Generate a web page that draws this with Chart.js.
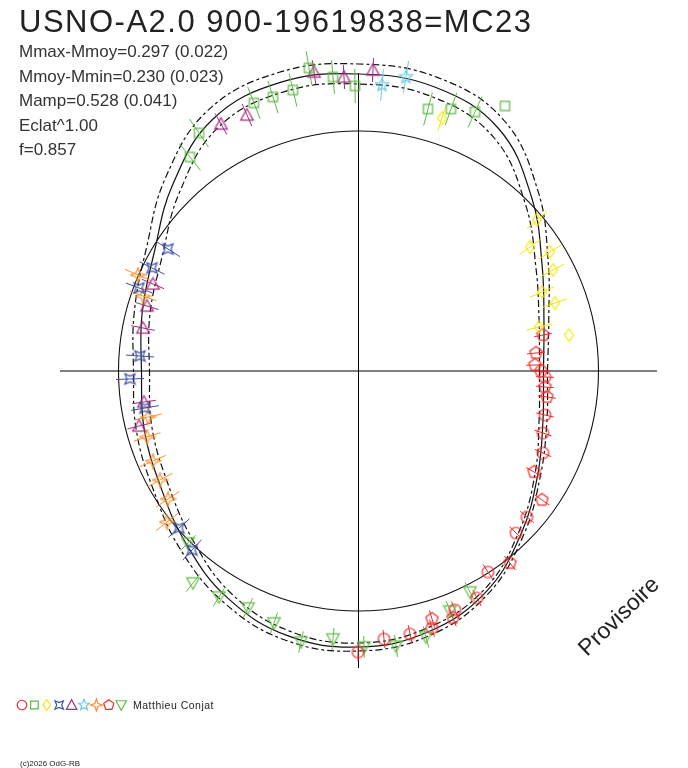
<!DOCTYPE html>
<html>
<head>
<meta charset="utf-8">
<script src="https://cdn.jsdelivr.net/npm/chart.js@4/dist/chart.umd.min.js"></script>
<style>
  html, body { margin: 0; padding: 0; background: #fff; }
</style>
</head>
<body>
<canvas id="myChart" width="688" height="768"></canvas>
<script>
// Courbe ajustee (phase en degres, rayon en unites du graphe)
const phaseDeg = [0, 15, 30, 45, 60, 75, 90, 105, 120, 135, 150, 165, 180, 195, 210, 225, 240, 255, 270, 285, 300, 315, 330, 345];
const fitR    = [1.85, 1.92, 2.12, 2.45, 2.80, 2.94, 2.97, 2.99, 2.91, 2.63, 2.36, 2.24, 2.17, 2.22, 2.29, 2.44, 2.62, 2.74, 2.76, 2.70, 2.55, 2.30, 2.07, 1.91];
const fitHigh = [1.89, 1.97, 2.19, 2.54, 2.90, 3.04, 3.07, 3.09, 3.01, 2.73, 2.45, 2.32, 2.25, 2.30, 2.37, 2.52, 2.68, 2.79, 2.80, 2.74, 2.58, 2.33, 2.10, 1.95];
const fitLow  = [1.81, 1.87, 2.05, 2.36, 2.70, 2.84, 2.87, 2.89, 2.81, 2.53, 2.27, 2.16, 2.09, 2.14, 2.21, 2.36, 2.56, 2.69, 2.72, 2.66, 2.52, 2.27, 2.04, 1.87];
const refRadius = 2.4;

// Observations par symbole : [x, y] ou [x, y, erreur]
const obsCircle = [[1.825, 0.00], [1.865, -0.06], [1.865, -0.44], [1.845, -0.62], [1.845, -0.82], [1.685, -1.46], [1.575, -1.62], [1.295, -2.01], [1.185, -2.27], [0.965, -2.39], [0.735, -2.57], [0.515, -2.63], [0.255, -2.68], [-0.005, -2.81]];
const obsSquare = [[-1.685, 2.14], [-1.595, 2.38], [-1.045, 2.68], [-0.855, 2.74], [-0.655, 2.81], [-0.495, 3.03], [-0.255, 2.94], [-0.035, 2.85], [0.695, 2.62], [0.925, 2.62], [1.165, 2.59], [1.465, 2.65, 0]];
const obsDiamond = [[0.835, 2.53], [1.785, 1.51], [1.715, 1.24], [1.915, 1.19], [1.945, 1.01], [1.835, 0.79], [1.965, 0.68], [1.805, 0.44], [2.105, 0.36, 0]];
const obsStarX = [[-1.905, 1.22], [-2.065, 1.03], [-2.195, 0.83], [-2.185, 0.15], [-2.285, -0.08], [-2.135, -0.37], [-1.795, -1.57], [-1.665, -1.79]];
const obsTriangle = [[-1.375, 2.47], [-1.115, 2.56], [-0.445, 2.99], [-0.145, 2.94], [0.145, 3.01], [-2.055, 0.87], [-2.115, 0.65], [-2.155, 0.43], [-2.145, -0.31], [-2.195, -0.55]];
const obsStar5 = [[0.235, 2.86], [0.475, 2.94]];
const obsStar4 = [[-2.205, 0.96], [-2.155, 0.75], [-2.105, -0.46], [-2.115, -0.66], [-2.055, -0.90], [-1.985, -1.09], [-1.905, -1.28], [-1.915, -1.51]];
const obsPentagon = [[1.845, 0.36], [1.775, 0.18], [1.765, 0.06], [1.865, -0.16], [1.885, -0.26], [1.755, -1.01], [1.835, -1.29], [1.515, -1.92], [0.945, -2.47], [0.735, -2.48]];
const obsTriDown = [[-1.705, -1.72], [-1.655, -2.12], [-1.395, -2.26], [-1.105, -2.37], [-0.845, -2.52], [-0.575, -2.71], [-0.255, -2.68], [0.055, -2.76], [0.375, -2.75], [0.675, -2.66], [0.915, -2.40], [1.115, -2.21]];

const groupShapes = ["circle", "square", "diamond", "starX", "triangle", "star5", "star4", "pentagon", "triDown"];
const groupColors = ["#ee2a2a", "#5cb946", "#f5e600", "#3c4fa3", "#a52a7f", "#6cc8e0", "#f7902a", "#ee2a2a", "#62bb47"];
const groupErr = [0.09, 0.17, 0.13, 0.14, 0.12, 0.16, 0.14, 0.09, 0.11];
const groupObs = [obsCircle, obsSquare, obsDiamond, obsStarX, obsTriangle, obsStar5, obsStar4, obsPentagon, obsTriDown];

const titre = "USNO-A2.0 900-19619838=MC23";
const stats = ["Mmax-Mmoy=0.297 (0.022)", "Mmoy-Mmin=0.230 (0.023)", "Mamp=0.528 (0.041)", "Eclat^1.00", "f=0.857"];
const auteur = "Matthieu Conjat";

// Dessin d'un symbole
const starPath = (ctx, cx, cy, n, rOut, rIn, start) => {
  for (let i = 0; i < n * 2; i++) {
    const r = i % 2 === 0 ? rOut : rIn;
    const a = start + i * Math.PI / n;
    const px = cx + r * Math.cos(a), py = cy + r * Math.sin(a);
    if (i === 0) ctx.moveTo(px, py); else ctx.lineTo(px, py);
  }
  ctx.closePath();
};

const drawShape = (ctx, shape, cx, cy, color, s) => {
  ctx.save();
  ctx.strokeStyle = color;
  ctx.lineWidth = 1.2;
  ctx.beginPath();
  switch (shape) {
    case "circle": ctx.arc(cx, cy, 5 * s, 0, Math.PI * 2); break;
    case "square": ctx.rect(cx - 4 * s, cy - 4 * s, 8 * s, 8 * s); break;
    case "diamond": starPath(ctx, cx, cy, 2, 5.5 * s, 5.5 * s * Math.SQRT1_2, -Math.PI / 2); break;
    case "starX": starPath(ctx, cx, cy, 4, 6.3 * s, 2.6 * s, -Math.PI / 4); break;
    case "triangle": ctx.moveTo(cx, cy - 5.5 * s); ctx.lineTo(cx + 5.5 * s, cy + 4.5 * s); ctx.lineTo(cx - 5.5 * s, cy + 4.5 * s); ctx.closePath(); break;
    case "star5": starPath(ctx, cx, cy, 5, 6 * s, 2.6 * s, -Math.PI / 2); break;
    case "star4": starPath(ctx, cx, cy, 4, 6.3 * s, 2.3 * s, -Math.PI / 2); break;
    case "pentagon": starPath(ctx, cx, cy, 5, 5.6 * s, 5.6 * s * Math.cos(Math.PI / 5), -Math.PI / 2); break;
    case "triDown": ctx.moveTo(cx - 5.5 * s, cy - 4.5 * s); ctx.lineTo(cx + 5.5 * s, cy - 4.5 * s); ctx.lineTo(cx, cy + 5.5 * s); ctx.closePath(); break;
  }
  ctx.stroke();
  ctx.restore();
};

const makeIcon = (shape, color) => {
  const c = document.createElement("canvas");
  c.width = 17; c.height = 17;
  drawShape(c.getContext("2d"), shape, 8.5, 8.5, color, 1.15);
  return c;
};

// Passage polaire -> cartesien
const toXY = (r, deg) => ({ x: r * Math.cos(deg * Math.PI / 180), y: r * Math.sin(deg * Math.PI / 180) });
const ring = (rs) => {
  const pts = phaseDeg.map((a, i) => toXY(rs[i], a));
  pts.push(pts[0]);
  return pts;
};

const datasets = [];

groupObs.forEach((obs, g) => {
  datasets.push({
    label: groupShapes[g],
    data: obs.map(p => ({ x: p[0], y: p[1] })),
    pointStyle: makeIcon(groupShapes[g], groupColors[g]),
    pointRadius: 6,
    showLine: false,
    clip: false,
    order: 0
  });
  // barres d'erreur radiales
  const bars = [];
  obs.forEach(p => {
    const e = p.length > 2 ? p[2] : groupErr[g];
    if (e <= 0) return;
    const r = Math.hypot(p[0], p[1]);
    const ux = p[0] / r, uy = p[1] / r;
    bars.push({ x: p[0] - ux * e, y: p[1] - uy * e }, { x: p[0] + ux * e, y: p[1] + uy * e }, { x: NaN, y: NaN });
  });
  datasets.push({
    label: groupShapes[g] + " err",
    data: bars,
    showLine: true,
    spanGaps: false,
    pointRadius: 0,
    borderColor: groupColors[g],
    borderWidth: 1,
    tension: 0,
    clip: false,
    order: 1
  });
});

const curveStyle = { showLine: true, pointRadius: 0, borderColor: "#111", borderWidth: 1.2, tension: 0.4, fill: false, clip: false, order: 2 };
datasets.push(Object.assign({ label: "ajustement", data: ring(fitR) }, curveStyle));
datasets.push(Object.assign({ label: "haut", data: ring(fitHigh), borderDash: [7, 3, 3, 3], borderWidth: 1.3 }, curveStyle));
datasets.push(Object.assign({ label: "bas", data: ring(fitLow), borderDash: [7, 3, 3, 3], borderWidth: 1.3 }, curveStyle));

// axes
datasets.push({ label: "axe x", data: [{ x: -2.985, y: 0 }, { x: 2.985, y: 0 }], showLine: true, pointRadius: 0, borderColor: "#000", borderWidth: 1, tension: 0, clip: false, order: 3 });
datasets.push({ label: "axe y", data: [{ x: 0, y: -2.97 }, { x: 0, y: 2.98 }], showLine: true, pointRadius: 0, borderColor: "#000", borderWidth: 1, tension: 0, clip: false, order: 3 });

// Cercle de reference et textes
const decorPlugin = {
  id: "decor",
  beforeDatasetsDraw(chart) {
    const ctx = chart.ctx;
    const xs = chart.scales.x, ys = chart.scales.y;
    const cx = xs.getPixelForValue(0), cy = ys.getPixelForValue(0);
    const rpx = xs.getPixelForValue(refRadius) - cx;
    ctx.save();
    ctx.strokeStyle = "#111";
    ctx.lineWidth = 1.1;
    ctx.beginPath();
    ctx.arc(cx, cy, rpx, 0, Math.PI * 2);
    ctx.stroke();
    ctx.restore();
  },
  afterDraw(chart) {
    const ctx = chart.ctx;
    ctx.save();
    ctx.fillStyle = "#222";
    ctx.textBaseline = "alphabetic";
    ctx.font = '31px "Liberation Sans", Arial, sans-serif';
    ctx.letterSpacing = "1.5px";
    ctx.fillText(titre, 19, 32);

    ctx.fillStyle = "#333";
    ctx.font = '17px "Liberation Sans", Arial, sans-serif';
    ctx.letterSpacing = "0px";
    stats.forEach((t, i) => ctx.fillText(t, 19, 57 + i * 24.5));

    // legende des symboles
    groupShapes.forEach((s, i) => drawShape(ctx, s, 22 + i * 12.4, 705, groupColors[i], 0.95));
    ctx.fillStyle = "#222";
    ctx.font = '10.5px "Liberation Sans", Arial, sans-serif';
    ctx.letterSpacing = "0.5px";
    ctx.fillText(auteur, 133, 709);

    ctx.font = '8px "Liberation Sans", Arial, sans-serif';
    ctx.letterSpacing = "0px";
    ctx.fillText("(c)2026 OdG-RB", 20, 766);

    ctx.translate(587, 657);
    ctx.rotate(-44 * Math.PI / 180);
    ctx.font = '23px "Liberation Sans", Arial, sans-serif';
    ctx.fillStyle = "#222";
    ctx.fillText("Provisoire", 0, 0);
    ctx.restore();
  }
};

new Chart(document.getElementById("myChart"), {
  type: "scatter",
  data: { datasets: datasets },
  options: {
    responsive: false,
    animation: false,
    layout: { padding: { left: 58.5, right: 29.5, top: 71, bottom: 97 } },
    elements: { line: { capBezierPoints: false } },
    scales: {
      x: { type: "linear", min: -3, max: 3, display: false },
      y: { type: "linear", min: -3, max: 3, display: false }
    },
    plugins: { legend: { display: false }, tooltip: { enabled: false } }
  },
  plugins: [decorPlugin]
});
</script>
</body>
</html>
